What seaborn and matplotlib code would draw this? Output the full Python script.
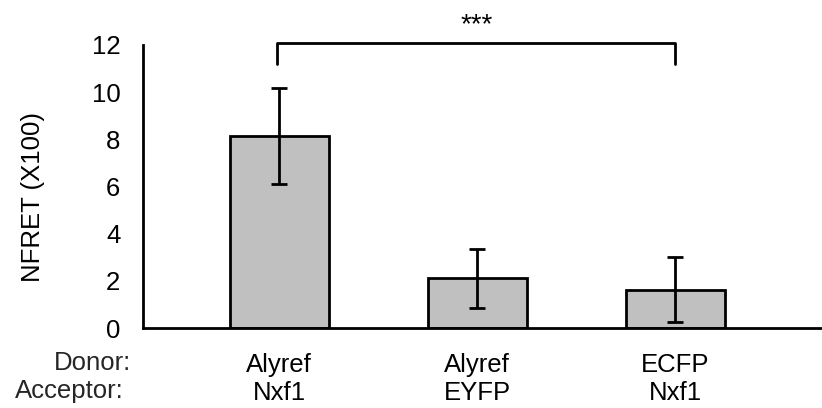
import matplotlib
matplotlib.use("Agg")
import matplotlib.pyplot as plt
import seaborn as sns
import pandas as pd

donors = ["Alyref", "Alyref", "ECFP"]
acceptors = ["Nxf1", "EYFP", "Nxf1"]
values = [8.14, 2.10, 1.62]
errors = [2.02, 1.25, 1.37]
yticks = [0, 2, 4, 6, 8, 10, 12]
sig_label = "***"

sns.set_theme(style="white")
plt.rcParams["font.family"] = ["Liberation Sans", "DejaVu Sans"]
FS = 18.5

labels = [f"{d}\n{a}" for d, a in zip(donors, acceptors)]
df = pd.DataFrame({"pair": labels, "nfret": values})

fig = plt.figure(figsize=(8.22, 4.08), dpi=100)
ax = fig.add_axes([0.1735, 0.196, 0.8265, 0.694])

sns.barplot(data=df, x="pair", y="nfret", ax=ax, color="#c0c0c0",
            edgecolor="black", linewidth=2, width=0.5, saturation=1, errorbar=None)
ax.errorbar(range(len(values)), values, yerr=errors, fmt="none",
            ecolor="black", elinewidth=2, capsize=6, capthick=2, zorder=5)

ax.set_ylim(0, 12)
ax.set_xlim(-0.69, 2.74)
ax.set_yticks(yticks)
ax.set_yticklabels([str(t) for t in yticks], fontsize=FS)
ax.set_xticks(range(len(labels)))
ax.set_xticklabels(labels, fontsize=FS, linespacing=1.2)
ax.set_xlabel("")
ax.set_ylabel("")
fig.text(33 / 822, 1 - 197 / 408, "NFRET (X100)", rotation=90, ha="center",
         va="center", fontsize=FS, color="black")

for s in ["top", "right"]:
    ax.spines[s].set_visible(False)
for s in ["left", "bottom"]:
    ax.spines[s].set_linewidth(2)
    ax.spines[s].set_color("black")
ax.tick_params(axis="y", length=7, width=2, direction="out", colors="black", pad=9)
ax.tick_params(axis="x", length=0, pad=18, colors="black")

# significance bracket
x0, x1 = -0.01, 2.0
yb, yd = 12.06, 11.2
ax.plot([x0, x0, x1, x1], [yd, yb, yb, yd], color="black", lw=2, clip_on=False)
ax.text((x0 + x1) / 2, 12.55, sig_label, ha="center", va="baseline", fontsize=20,
        color="black")

fig.text(131 / 822, 1 - 370.5 / 408, "Donor:", ha="right", va="baseline", fontsize=FS)
fig.text(124 / 822, 1 - 398 / 408, "Acceptor:", ha="right", va="baseline", fontsize=FS)

fig.savefig("out.png", dpi=100)
